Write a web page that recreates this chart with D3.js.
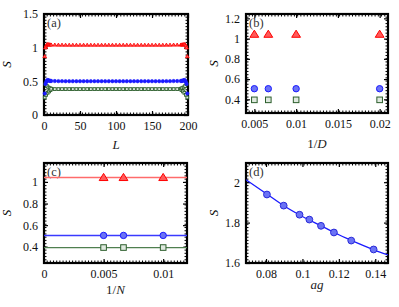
<!DOCTYPE html>
<html><head><meta charset="utf-8">
<script src="https://cdn.jsdelivr.net/npm/d3@7"></script>
<style>html,body{margin:0;padding:0;background:#fff;}svg{display:block;}</style>
</head><body>
<svg id="c" width="399" height="307"></svg>
<script>
// ---------- data ----------
// panel (a): S vs L
const L_a = [1,2,3,4,5,6,7,8,9,10,15,20,25,30,35,40,45,50,55,60,65,70,75,80,85,90,95,100,105,110,115,120,125,130,135,140,145,150,155,160,165,170,175,180,185,190,191,192,193,194,195,196,197,198,199];
const S_a_red = [0.87,1.00,1.03,1.045,1.05,1.048,1.046,1.045,1.044,1.043,1.042,1.041,1.041,1.04,1.04,1.04,1.04,1.04,1.04,1.04,1.04,1.04,1.04,1.04,1.04,1.04,1.04,1.04,1.04,1.04,1.04,1.04,1.04,1.04,1.04,1.04,1.04,1.04,1.04,1.04,1.04,1.041,1.041,1.042,1.042,1.043,1.044,1.045,1.046,1.048,1.05,1.045,1.03,1.00,0.87];
const S_a_blue = [0.32,0.46,0.49,0.51,0.52,0.515,0.51,0.508,0.506,0.505,0.504,0.503,0.503,0.502,0.502,0.502,0.502,0.502,0.502,0.502,0.502,0.502,0.502,0.502,0.502,0.502,0.502,0.502,0.502,0.502,0.502,0.502,0.502,0.502,0.502,0.502,0.502,0.502,0.502,0.502,0.502,0.503,0.503,0.504,0.504,0.505,0.506,0.508,0.51,0.515,0.52,0.51,0.49,0.46,0.32];
const S_a_green = [0.26,0.46,0.30,0.43,0.33,0.41,0.35,0.40,0.37,0.39,0.385,0.385,0.385,0.385,0.385,0.385,0.385,0.385,0.385,0.385,0.385,0.385,0.385,0.385,0.385,0.385,0.385,0.385,0.385,0.385,0.385,0.385,0.385,0.385,0.385,0.385,0.385,0.385,0.385,0.385,0.385,0.385,0.385,0.385,0.385,0.39,0.37,0.40,0.35,0.41,0.33,0.43,0.30,0.46,0.26];
// panel (b): S vs 1/D
const invD = [0.005, 0.00667, 0.01, 0.02];
const S_b_red = [1.042, 1.042, 1.042, 1.042];
const S_b_blue = [0.505, 0.505, 0.505, 0.505];
const S_b_green = [0.395, 0.395, 0.395, 0.395];
// panel (c): S vs 1/N
const invN = [0.005, 0.00667, 0.01];
const S_c_red = [1.04, 1.04, 1.04];
const S_c_blue = [0.505, 0.505, 0.505];
const S_c_green = [0.393, 0.393, 0.393];
const fitN = [0, 0.012];
const fit_c_red = [1.04, 1.04];
const fit_c_blue = [0.505, 0.505];
const fit_c_green = [0.393, 0.393];
// panel (d): S vs ag
const ag = [0.0805, 0.0897, 0.0984, 0.1038, 0.1102, 0.1173, 0.1268, 0.1391];
const S_d = [1.939, 1.884, 1.839, 1.815, 1.784, 1.751, 1.711, 1.667];
const fitAg = [0.069, 0.08, 0.09, 0.10, 0.11, 0.12, 0.13, 0.14, 0.147];
const fitS = [2.012, 1.944, 1.882, 1.830, 1.785, 1.740, 1.700, 1.663, 1.640];

const ticks_a_x = [0,50,100,150,200], ticks_a_y = [0,0.5,1,1.5];
const ticks_b_x = [0.005,0.01,0.015,0.02], ticks_b_y = [0.4,0.6,0.8,1,1.2];
const ticks_c_x = [0,0.005,0.01], ticks_c_y = [0.4,0.6,0.8,1];
const ticks_d_x = [0.08,0.1,0.12,0.14], ticks_d_y = [1.6,1.8,2];

// ---------- styles ----------
const RED = "#ff0000", REDF = "#ff5a5a";
const BLUE = "#1a1aff", BLUEF = "#6b73f5";
const GREEN = "#2c5e2c", GREENF = "#dfe9df";
const FONT = "'Liberation Serif','Times New Roman','DejaVu Serif',serif";

const svg = d3.select("#c");

function panel(o) {
  const x = d3.scaleLinear().domain(o.xd).range([o.x0, o.x1]);
  const y = d3.scaleLinear().domain(o.yd).range([o.y1, o.y0]);
  const g = svg.append("g");
  // minor ticks (dotted look on frame)
  const nMinX = Math.round((o.x1 - o.x0) / 3.2), nMinY = Math.round((o.y1 - o.y0) / 3.2);
  const minX = d3.range(nMinX + 1).map(i => o.x0 + i * (o.x1 - o.x0) / nMinX);
  const minY = d3.range(nMinY + 1).map(i => o.y0 + i * (o.y1 - o.y0) / nMinY);
  const mg = g.append("g").attr("stroke", "#000").attr("stroke-width", 1);
  minX.forEach(px => {
    mg.append("line").attr("x1", px).attr("x2", px).attr("y1", o.y1).attr("y2", o.y1 - 2.5);
    mg.append("line").attr("x1", px).attr("x2", px).attr("y1", o.y0).attr("y2", o.y0 + 2.5);
  });
  minY.forEach(py => {
    mg.append("line").attr("y1", py).attr("y2", py).attr("x1", o.x0).attr("x2", o.x0 + 2.5);
    mg.append("line").attr("y1", py).attr("y2", py).attr("x1", o.x1).attr("x2", o.x1 - 2.5);
  });
  // axes via d3
  const ax = d3.axisBottom(x).tickValues(o.tx).tickSize(-4).tickPadding(6).tickFormat(d3.format("~g"));
  const axT = d3.axisTop(x).tickValues(o.tx).tickSize(-4).tickFormat("");
  const ay = d3.axisLeft(y).tickValues(o.ty).tickSize(-4).tickPadding(6).tickFormat(d3.format("~g"));
  const ayR = d3.axisRight(y).tickValues(o.ty).tickSize(-4).tickFormat("");
  g.append("g").attr("transform", `translate(0,${o.y1})`).call(ax);
  g.append("g").attr("transform", `translate(0,${o.y0})`).call(axT);
  g.append("g").attr("transform", `translate(${o.x0},0)`).call(ay);
  g.append("g").attr("transform", `translate(${o.x1},0)`).call(ayR);
  g.selectAll(".domain").remove();
  g.selectAll("g").attr("font-family", FONT);
  g.selectAll(".tick line").attr("stroke", "#000").attr("stroke-width", 1.2);
  g.selectAll(".tick text").attr("font-family", FONT).attr("font-size", 12).attr("fill", "#111");
  // frame
  g.append("rect").attr("x", o.x0).attr("y", o.y0).attr("width", o.x1 - o.x0).attr("height", o.y1 - o.y0)
    .attr("fill", "none").attr("stroke", "#000").attr("stroke-width", 2.2);
  // panel tag
  g.append("text").attr("x", o.x0 + 3).attr("y", o.y0 + 13).text(o.tag)
    .attr("font-family", FONT).attr("font-size", 12.5).attr("fill", "#333");
  // axis labels
  g.append("text").attr("transform", `translate(${o.ylx},${(o.y0 + o.y1) / 2}) rotate(-90)`)
    .attr("text-anchor", "middle").attr("font-family", FONT).attr("font-style", "italic")
    .attr("font-size", 13).text("S");
  const xl = g.append("text").attr("x", (o.x0 + o.x1) / 2).attr("y", o.xly).attr("text-anchor", "middle")
    .attr("font-family", FONT).attr("font-size", 13).attr("fill", "#222");
  o.xlabel.forEach(p => xl.append("tspan").attr("font-style", p[1] ? "italic" : "normal").text(p[0]));
  const clip = "clip" + o.tag.replace(/\W/g, "");
  svg.append("clipPath").attr("id", clip).append("rect")
    .attr("x", o.x0).attr("y", o.y0).attr("width", o.x1 - o.x0).attr("height", o.y1 - o.y0);
  const plot = svg.append("g");
  return { x, y, plot, clip };
}

function marker(sel, type, size, stroke, fill, sw) {
  if (type === "tri") {
    const s = size;
    sel.append("path").attr("d", `M0,${-s}L${s * 1.05},${s * 0.7}L${-s * 1.05},${s * 0.7}Z`)
      .attr("fill", fill).attr("stroke", stroke).attr("stroke-width", sw);
  } else if (type === "circ") {
    sel.append("circle").attr("r", size).attr("fill", fill).attr("stroke", stroke).attr("stroke-width", sw);
  } else {
    sel.append("rect").attr("x", -size).attr("y", -size).attr("width", 2 * size).attr("height", 2 * size)
      .attr("fill", fill).attr("stroke", stroke).attr("stroke-width", sw);
  }
}

function points(P, xs, ys, type, size, stroke, fill, sw) {
  P.plot.append("g").selectAll("g").data(xs).join("g")
    .attr("transform", (d, i) => `translate(${P.x(d)},${P.y(ys[i])})`)
    .each(function () { marker(d3.select(this), type, size, stroke, fill, sw); });
}

function line(P, xs, ys, color, w, curve) {
  P.plot.append("path").datum(xs)
    .attr("clip-path", `url(#${P.clip})`)
    .attr("d", d3.line().x(d => P.x(d)).y((d, i) => P.y(ys[i])).curve(curve || d3.curveLinear))
    .attr("fill", "none").attr("stroke", color).attr("stroke-width", w);
}

// (a)
const A = panel({ x0: 44, x1: 188, y0: 14, y1: 115, xd: [0, 200], yd: [0, 1.5], tx: ticks_a_x, ty: ticks_a_y,
  tag: "(a)", ylx: 11, xly: 149, xlabel: [["L", true]] });
points(A, L_a, S_a_green, "sq", 1.4, GREEN, GREENF, 0.9);
points(A, L_a, S_a_blue, "circ", 1.7, BLUE, BLUE, 0.6);
points(A, L_a, S_a_red, "tri", 1.8, RED, REDF, 0.8);

// (b)
const B = panel({ x0: 246, x1: 388, y0: 14, y1: 113, xd: [0.004, 0.021], yd: [0.265, 1.243], tx: ticks_b_x, ty: ticks_b_y,
  tag: "(b)", ylx: 218, xly: 148, xlabel: [["1/", false], ["D", true]] });
points(B, invD, S_b_red, "tri", 4.2, RED, REDF, 1);
points(B, invD, S_b_blue, "circ", 3.2, BLUE, BLUEF, 1);
points(B, invD, S_b_green, "sq", 2.8, GREEN, GREENF, 1);

// (c)
const C = panel({ x0: 44, x1: 187, y0: 163, y1: 263, xd: [0, 0.012], yd: [0.25, 1.175], tx: ticks_c_x, ty: ticks_c_y,
  tag: "(c)", ylx: 11, xly: 294, xlabel: [["1/", false], ["N", true]] });
line(C, fitN, fit_c_red, "#ff6b6b", 1.5);
line(C, fitN, fit_c_blue, "#3a3aff", 1.5);
line(C, fitN, fit_c_green, "#4f7f4f", 1.3);
points(C, invN, S_c_red, "tri", 4.2, RED, REDF, 1);
points(C, invN, S_c_blue, "circ", 3.2, BLUE, BLUEF, 1);
points(C, invN, S_c_green, "sq", 2.8, GREEN, GREENF, 1);

// (d)
const D = panel({ x0: 246, x1: 388, y0: 163, y1: 263, xd: [0.069, 0.147], yd: [1.6, 2.095], tx: ticks_d_x, ty: ticks_d_y,
  tag: "(d)", ylx: 218, xly: 289, xlabel: [["ag", true]] });
line(D, fitAg, fitS, "#1a1aff", 1.3, d3.curveMonotoneX);
points(D, ag, S_d, "circ", 3.4, "#2a2ad8", BLUEF, 1);
</script>
</body></html>
